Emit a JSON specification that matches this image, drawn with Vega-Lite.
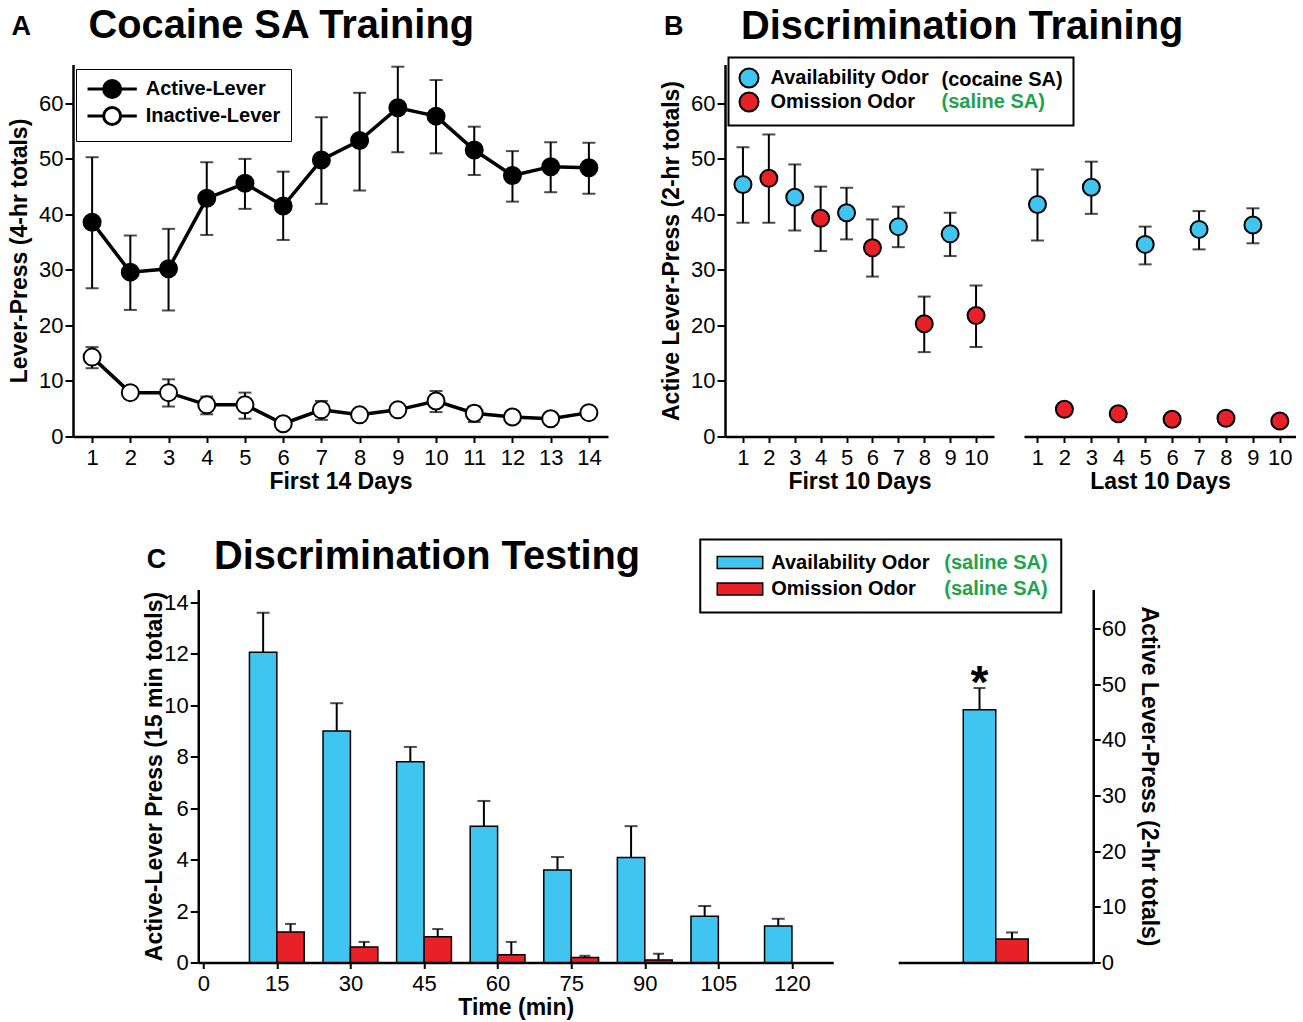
{
  "$schema": "https://vega.github.io/schema/vega-lite/v6.json",
  "padding": {"left": 8, "top": 5.5, "right": 0, "bottom": 0},
  "datasets": {
    "a": [
      {"day": 1, "lever": "Active-Lever", "mean": 38.6, "lo": 26.7, "hi": 50.3},
      {"day": 2, "lever": "Active-Lever", "mean": 29.6, "lo": 22.8, "hi": 36.2},
      {"day": 3, "lever": "Active-Lever", "mean": 30.2, "lo": 22.7, "hi": 37.4},
      {"day": 4, "lever": "Active-Lever", "mean": 42.9, "lo": 36.3, "hi": 49.4},
      {"day": 5, "lever": "Active-Lever", "mean": 45.6, "lo": 41.0, "hi": 50.0},
      {"day": 6, "lever": "Active-Lever", "mean": 41.5, "lo": 35.4, "hi": 47.7},
      {"day": 7, "lever": "Active-Lever", "mean": 49.8, "lo": 41.9, "hi": 57.5},
      {"day": 8, "lever": "Active-Lever", "mean": 53.3, "lo": 44.3, "hi": 61.9},
      {"day": 9, "lever": "Active-Lever", "mean": 59.2, "lo": 51.2, "hi": 66.6},
      {"day": 10, "lever": "Active-Lever", "mean": 57.7, "lo": 51.0, "hi": 64.2},
      {"day": 11, "lever": "Active-Lever", "mean": 51.6, "lo": 47.1, "hi": 55.8},
      {"day": 12, "lever": "Active-Lever", "mean": 47.0, "lo": 42.3, "hi": 51.4},
      {"day": 13, "lever": "Active-Lever", "mean": 48.6, "lo": 44.0, "hi": 53.0},
      {"day": 14, "lever": "Active-Lever", "mean": 48.4, "lo": 43.7, "hi": 52.9},
      {"day": 1, "lever": "Inactive-Lever", "mean": 14.3, "lo": 12.3, "hi": 16.1},
      {"day": 2, "lever": "Inactive-Lever", "mean": 7.9, "lo": null, "hi": null},
      {"day": 3, "lever": "Inactive-Lever", "mean": 7.9, "lo": 5.4, "hi": 10.3},
      {"day": 4, "lever": "Inactive-Lever", "mean": 5.7, "lo": 4.0, "hi": 7.2},
      {"day": 5, "lever": "Inactive-Lever", "mean": 5.7, "lo": 3.2, "hi": 7.9},
      {"day": 6, "lever": "Inactive-Lever", "mean": 2.3, "lo": null, "hi": null},
      {"day": 7, "lever": "Inactive-Lever", "mean": 4.8, "lo": 3.0, "hi": 6.4},
      {"day": 8, "lever": "Inactive-Lever", "mean": 3.9, "lo": null, "hi": null},
      {"day": 9, "lever": "Inactive-Lever", "mean": 4.8, "lo": null, "hi": null},
      {"day": 10, "lever": "Inactive-Lever", "mean": 6.4, "lo": 4.4, "hi": 8.2},
      {"day": 11, "lever": "Inactive-Lever", "mean": 4.2, "lo": 2.6, "hi": 5.4},
      {"day": 12, "lever": "Inactive-Lever", "mean": 3.5, "lo": null, "hi": null},
      {"day": 13, "lever": "Inactive-Lever", "mean": 3.2, "lo": null, "hi": null},
      {"day": 14, "lever": "Inactive-Lever", "mean": 4.3, "lo": 3.4, "hi": 5.2}
    ],
    "b": [
      {"phase": "First", "day": 1, "odor": "Availability Odor", "mean": 45.4, "lo": 38.5, "hi": 52.1},
      {"phase": "First", "day": 2, "odor": "Omission Odor", "mean": 46.5, "lo": 38.5, "hi": 54.4},
      {"phase": "First", "day": 3, "odor": "Availability Odor", "mean": 43.1, "lo": 37.1, "hi": 49.0},
      {"phase": "First", "day": 4, "odor": "Omission Odor", "mean": 39.3, "lo": 33.4, "hi": 45.0},
      {"phase": "First", "day": 5, "odor": "Availability Odor", "mean": 40.3, "lo": 35.5, "hi": 44.8},
      {"phase": "First", "day": 6, "odor": "Omission Odor", "mean": 34.0, "lo": 28.8, "hi": 39.1},
      {"phase": "First", "day": 7, "odor": "Availability Odor", "mean": 37.8, "lo": 34.1, "hi": 41.4},
      {"phase": "First", "day": 8, "odor": "Omission Odor", "mean": 20.3, "lo": 15.2, "hi": 25.2},
      {"phase": "First", "day": 9, "odor": "Availability Odor", "mean": 36.5, "lo": 32.5, "hi": 40.3},
      {"phase": "First", "day": 10, "odor": "Omission Odor", "mean": 21.8, "lo": 16.1, "hi": 27.2},
      {"phase": "Last", "day": 1, "odor": "Availability Odor", "mean": 41.8, "lo": 35.3, "hi": 48.1},
      {"phase": "Last", "day": 2, "odor": "Omission Odor", "mean": 4.9, "lo": null, "hi": null},
      {"phase": "Last", "day": 3, "odor": "Availability Odor", "mean": 44.9, "lo": 40.1, "hi": 49.5},
      {"phase": "Last", "day": 4, "odor": "Omission Odor", "mean": 4.1, "lo": null, "hi": null},
      {"phase": "Last", "day": 5, "odor": "Availability Odor", "mean": 34.6, "lo": 31.0, "hi": 37.8},
      {"phase": "Last", "day": 6, "odor": "Omission Odor", "mean": 3.1, "lo": null, "hi": null},
      {"phase": "Last", "day": 7, "odor": "Availability Odor", "mean": 37.3, "lo": 33.7, "hi": 40.6},
      {"phase": "Last", "day": 8, "odor": "Omission Odor", "mean": 3.3, "lo": null, "hi": null},
      {"phase": "Last", "day": 9, "odor": "Availability Odor", "mean": 38.1, "lo": 34.8, "hi": 41.1},
      {"phase": "Last", "day": 10, "odor": "Omission Odor", "mean": 2.8, "lo": null, "hi": null}
    ],
    "c": [
      {"time": 15, "odor": "Availability Odor", "mean": 12.06, "hi": 13.6},
      {"time": 30, "odor": "Availability Odor", "mean": 9.0, "hi": 10.08},
      {"time": 45, "odor": "Availability Odor", "mean": 7.8, "hi": 8.38},
      {"time": 60, "odor": "Availability Odor", "mean": 5.3, "hi": 6.28},
      {"time": 75, "odor": "Availability Odor", "mean": 3.6, "hi": 4.1},
      {"time": 90, "odor": "Availability Odor", "mean": 4.08, "hi": 5.3},
      {"time": 105, "odor": "Availability Odor", "mean": 1.8, "hi": 2.2},
      {"time": 120, "odor": "Availability Odor", "mean": 1.42, "hi": 1.7},
      {"time": 15, "odor": "Omission Odor", "mean": 1.19, "hi": 1.5},
      {"time": 30, "odor": "Omission Odor", "mean": 0.6, "hi": 0.8},
      {"time": 45, "odor": "Omission Odor", "mean": 1.0, "hi": 1.3},
      {"time": 60, "odor": "Omission Odor", "mean": 0.3, "hi": 0.8},
      {"time": 75, "odor": "Omission Odor", "mean": 0.19, "hi": 0.26},
      {"time": 90, "odor": "Omission Odor", "mean": 0.1, "hi": 0.34},
      {"time": 105, "odor": "Omission Odor", "mean": 0, "hi": null},
      {"time": 120, "odor": "Omission Odor", "mean": 0, "hi": null}
    ],
    "c2": [
      {"odor": "Availability Odor", "mean": 45.4, "hi": 49.3, "sig": "*"},
      {"odor": "Omission Odor", "mean": 4.2, "hi": 5.4, "sig": null}
    ]
  },
  "vconcat": [
    {
      "hconcat": [
        {
          "title": {"text": "A", "fontSize": 27, "frame": "bounds", "dx": 3, "dy": 34.5, "offset": 0},
          "resolve": {"scale": {"color": "independent"}},
          "hconcat": [
            {
              "width": 535,
              "height": 372,
              "title": {"text": "Cocaine SA Training", "frame": "group", "dx": 15.5, "offset": 17.25},
              "data": {"name": "a"},
              "encoding": {
                "x": {"field": "day", "type": "quantitative", "scale": {"domain": [0.5, 14.5], "nice": false, "zero": false},
                      "axis": {"values": [1, 2, 3, 4, 5, 6, 7, 8, 9, 10, 11, 12, 13, 14], "title": "First 14 Days"}}
              },
              "layer": [
                {
                  "transform": [{"filter": "isValid(datum.lo)"}],
                  "mark": {"type": "rule", "color": "black", "strokeWidth": 2},
                  "encoding": {
                    "y": {"field": "lo", "type": "quantitative", "scale": {"domain": [0, 67], "nice": false},
                          "axis": {"values": [0, 10, 20, 30, 40, 50, 60], "title": "Lever-Press (4-hr totals)"}},
                    "y2": {"field": "hi"}
                  }
                },
                {
                  "transform": [{"filter": "isValid(datum.lo)"}],
                  "mark": {"type": "tick", "orient": "horizontal", "color": "black", "size": 13, "thickness": 2},
                  "encoding": {"y": {"field": "lo", "type": "quantitative", "scale": {"domain": [0, 67], "nice": false},
                                     "axis": {"values": [0, 10, 20, 30, 40, 50, 60], "title": "Lever-Press (4-hr totals)"}}}
                },
                {
                  "transform": [{"filter": "isValid(datum.hi)"}],
                  "mark": {"type": "tick", "orient": "horizontal", "color": "black", "size": 13, "thickness": 2},
                  "encoding": {"y": {"field": "hi", "type": "quantitative", "scale": {"domain": [0, 67], "nice": false},
                                     "axis": {"values": [0, 10, 20, 30, 40, 50, 60], "title": "Lever-Press (4-hr totals)"}}}
                },
                {
                  "mark": {"type": "line", "color": "black", "strokeWidth": 3.5},
                  "encoding": {
                    "y": {"field": "mean", "type": "quantitative", "scale": {"domain": [0, 67], "nice": false},
                          "axis": {"values": [0, 10, 20, 30, 40, 50, 60], "title": "Lever-Press (4-hr totals)"}},
                    "detail": {"field": "lever"}
                  }
                },
                {
                  "mark": {"type": "point", "filled": true, "stroke": "black", "strokeWidth": 2, "size": 289, "opacity": 1},
                  "encoding": {
                    "y": {"field": "mean", "type": "quantitative", "scale": {"domain": [0, 67], "nice": false},
                          "axis": {"values": [0, 10, 20, 30, 40, 50, 60], "title": "Lever-Press (4-hr totals)"}},
                    "color": {
                      "field": "lever", "type": "nominal",
                      "scale": {"domain": ["Active-Lever", "Inactive-Lever"], "range": ["black", "white"]},
                      "legend": {
                        "orient": "none", "legendX": 3, "legendY": 4.5, "title": null,
                        "symbolType": "M-1,0H0.9M2.9,0H4.8M2.9,0A1,1,0,1,1,0.9,0A1,1,0,1,1,2.9,0Z",
                        "symbolSize": 289, "symbolStrokeColor": "black", "symbolStrokeWidth": 3,
                        "labelOffset": 39.7, "rowPadding": -3, "padding": 10,
                        "encode": {"legend": {"update": {"strokeWidth": {"value": 2}}},
                                   "symbols": {"update": {"stroke": {"value": "black"}}}}
                      }
                    }
                  }
                }
              ]
            }
          ]
        },
        {
          "title": {"text": "Discrimination Training", "fontSize": 39.8, "frame": "bounds", "dx": 80.5, "dy": 34.5, "offset": 0},
          "spacing": 30,
          "hconcat": [
            {
              "width": 269,
              "height": 372,
              "title": {"text": "B", "fontSize": 27, "frame": "group", "dx": -61, "offset": 23.25},
              "data": {"name": "b"},
              "transform": [{"filter": "datum.phase === 'First'"}],
              "encoding": {
                "x": {"field": "day", "type": "quantitative", "scale": {"domain": [0.5, 10.5], "nice": false, "zero": false},
                      "axis": {"values": [1, 2, 3, 4, 5, 6, 7, 8, 9, 10], "title": "First 10 Days"}}
              },
              "layer": [
                {
                  "mark": {"type": "bar", "opacity": 0, "width": 2},
                  "encoding": {
                    "y": {"field": "mean", "type": "quantitative", "scale": {"domain": [0, 67], "nice": false},
                          "axis": {"values": [0, 10, 20, 30, 40, 50, 60], "title": "Active Lever-Press (2-hr totals)"}},
                    "fill": {
                      "field": "odor", "type": "nominal",
                      "scale": {"domain": ["Availability Odor", "Omission Odor", "(cocaine SA)", "(saline SA)"],
                                "range": ["#40c4f0", "#e82027", "#ffffff", "#ffffff"]},
                      "legend": {
                        "orient": "none", "legendX": 3.5, "legendY": -7, "title": null,
                        "columns": 2, "columnPadding": 0, "rowPadding": -3,
                        "symbolType": "circle", "symbolSize": 361, "symbolStrokeColor": "black", "symbolStrokeWidth": 2,
                        "labelOffset": 11, "padding": 10,
                        "encode": {
                          "legend": {"update": {"strokeWidth": {"value": 2}}},
                          "symbols": {"update": {"opacity": {"signal": "indexof(datum.value, '(') === 0 ? 0 : 1"}, "stroke": {"value": "black"}}},
                          "labels": {"update": {"fill": {"signal": "datum.value === '(saline SA)' ? '#1fa34e' : 'black'"},
                                                "dx": {"signal": "indexof(datum.value, '(') === 0 ? -20 : 0"}}}
                        }
                      }
                    }
                  }
                },
                {
                  "transform": [{"filter": "isValid(datum.lo)"}],
                  "mark": {"type": "rule", "color": "black", "strokeWidth": 2},
                  "encoding": {
                    "y": {"field": "lo", "type": "quantitative", "scale": {"domain": [0, 67], "nice": false},
                          "axis": {"values": [0, 10, 20, 30, 40, 50, 60], "title": "Active Lever-Press (2-hr totals)"}},
                    "y2": {"field": "hi"}
                  }
                },
                {
                  "transform": [{"filter": "isValid(datum.lo)"}],
                  "mark": {"type": "tick", "orient": "horizontal", "color": "black", "size": 13, "thickness": 2},
                  "encoding": {"y": {"field": "lo", "type": "quantitative", "scale": {"domain": [0, 67], "nice": false},
                                     "axis": {"values": [0, 10, 20, 30, 40, 50, 60], "title": "Active Lever-Press (2-hr totals)"}}}
                },
                {
                  "transform": [{"filter": "isValid(datum.hi)"}],
                  "mark": {"type": "tick", "orient": "horizontal", "color": "black", "size": 13, "thickness": 2},
                  "encoding": {"y": {"field": "hi", "type": "quantitative", "scale": {"domain": [0, 67], "nice": false},
                                     "axis": {"values": [0, 10, 20, 30, 40, 50, 60], "title": "Active Lever-Press (2-hr totals)"}}}
                },
                {
                  "mark": {"type": "point", "filled": true, "stroke": "black", "strokeWidth": 2, "size": 289, "opacity": 1},
                  "encoding": {
                    "y": {"field": "mean", "type": "quantitative", "scale": {"domain": [0, 67], "nice": false},
                          "axis": {"values": [0, 10, 20, 30, 40, 50, 60], "title": "Active Lever-Press (2-hr totals)"}},
                    "fill": {
                      "field": "odor", "type": "nominal",
                      "scale": {"domain": ["Availability Odor", "Omission Odor", "(cocaine SA)", "(saline SA)"],
                                "range": ["#40c4f0", "#e82027", "#ffffff", "#ffffff"]},
                      "legend": null
                    }
                  }
                }
              ]
            },
            {
              "width": 272,
              "height": 372,
              "data": {"name": "b"},
              "transform": [{"filter": "datum.phase === 'Last'"}],
              "encoding": {
                "x": {"field": "day", "type": "quantitative", "scale": {"domain": [0.5, 10.6], "nice": false, "zero": false},
                      "axis": {"values": [1, 2, 3, 4, 5, 6, 7, 8, 9, 10], "title": "Last 10 Days"}}
              },
              "layer": [
                {
                  "transform": [{"filter": "isValid(datum.lo)"}],
                  "mark": {"type": "rule", "color": "black", "strokeWidth": 2},
                  "encoding": {
                    "y": {"field": "lo", "type": "quantitative", "scale": {"domain": [0, 67], "nice": false}, "axis": null},
                    "y2": {"field": "hi"}
                  }
                },
                {
                  "transform": [{"filter": "isValid(datum.lo)"}],
                  "mark": {"type": "tick", "orient": "horizontal", "color": "black", "size": 13, "thickness": 2},
                  "encoding": {"y": {"field": "lo", "type": "quantitative", "scale": {"domain": [0, 67], "nice": false}, "axis": null}}
                },
                {
                  "transform": [{"filter": "isValid(datum.hi)"}],
                  "mark": {"type": "tick", "orient": "horizontal", "color": "black", "size": 13, "thickness": 2},
                  "encoding": {"y": {"field": "hi", "type": "quantitative", "scale": {"domain": [0, 67], "nice": false}, "axis": null}}
                },
                {
                  "mark": {"type": "point", "filled": true, "stroke": "black", "strokeWidth": 2, "size": 289, "opacity": 1},
                  "encoding": {
                    "y": {"field": "mean", "type": "quantitative", "scale": {"domain": [0, 67], "nice": false}, "axis": null},
                    "fill": {
                      "field": "odor", "type": "nominal",
                      "scale": {"domain": ["Availability Odor", "Omission Odor", "(cocaine SA)", "(saline SA)"],
                                "range": ["#40c4f0", "#e82027", "#ffffff", "#ffffff"]},
                      "legend": null
                    }
                  }
                }
              ]
            }
          ]
        }
      ],
      "spacing": 52,
      "resolve": {"scale": {"color": "independent", "fill": "independent"}}
    },
    {
      "title": {"text": "C", "fontSize": 27, "frame": "bounds", "dx": 3.5, "dy": 36.5, "offset": 0},
      "spacing": 65,
      "hconcat": [
        {
          "width": 635,
          "height": 373,
          "title": {"text": "Discrimination Testing", "frame": "group", "dx": 15.8, "offset": 11.45},
          "data": {"name": "c"},
          "encoding": {
            "x": {"field": "time", "type": "quantitative", "scale": {"domain": [0, 127.4], "nice": false, "zero": false},
                  "axis": {"values": [0, 15, 30, 45, 60, 75, 90, 105, 120], "title": "Time (min)"}}
          },
          "layer": [
            {
              "transform": [{"filter": "datum.odor === 'Availability Odor'"}],
              "mark": {"type": "bar", "width": 27.4, "xOffset": -13.7, "stroke": "black", "strokeWidth": 1.5},
              "encoding": {
                "y": {"field": "mean", "type": "quantitative", "scale": {"domain": [0, 14.5], "nice": false},
                      "axis": {"values": [0, 2, 4, 6, 8, 10, 12, 14], "title": "Active-Lever Press (15 min totals)", "titlePadding": -2.5}},
                "fill": {
                  "field": "odor", "type": "nominal",
                  "scale": {"domain": ["Availability Odor", "Omission Odor", "sa1", "sa2"],
                            "range": ["#40c4f0", "#e82027", "#ffffff", "#ffffff"]},
                  "legend": {
                    "orient": "none", "legendX": 502, "legendY": -50, "title": null,
                    "columns": 2, "columnPadding": 0, "rowPadding": 6.4,
                    "symbolType": "M-1,-1H6.58V1H-1Z", "symbolSize": 144, "symbolStrokeColor": "black", "symbolStrokeWidth": 1.5,
                    "labelOffset": 38, "padding": 13,
                    "labelExpr": "datum.value === 'sa1' || datum.value === 'sa2' ? '(saline SA)' : datum.value",
                    "encode": {
                      "legend": {"update": {"strokeWidth": {"value": 2}}},
                      "symbols": {"update": {"opacity": {"signal": "indexof(datum.value, 'sa') === 0 ? 0 : 1"}, "stroke": {"value": "black"}}},
                      "labels": {"update": {"fill": {"signal": "indexof(datum.value, 'sa') === 0 ? '#1fa34e' : 'black'"},
                                            "dx": {"signal": "indexof(datum.value, 'sa') === 0 ? -44 : 0"}}}
                    }
                  }
                }
              }
            },
            {
              "transform": [{"filter": "datum.odor === 'Omission Odor' && datum.mean > 0"}],
              "mark": {"type": "bar", "width": 27.4, "xOffset": 13.7, "stroke": "black", "strokeWidth": 1.5},
              "encoding": {
                "y": {"field": "mean", "type": "quantitative", "scale": {"domain": [0, 14.5], "nice": false},
                      "axis": {"values": [0, 2, 4, 6, 8, 10, 12, 14], "title": "Active-Lever Press (15 min totals)", "titlePadding": -2.5}},
                "fill": {
                  "field": "odor", "type": "nominal",
                  "scale": {"domain": ["Availability Odor", "Omission Odor", "sa1", "sa2"],
                            "range": ["#40c4f0", "#e82027", "#ffffff", "#ffffff"]},
                  "legend": {
                    "orient": "none", "legendX": 502, "legendY": -50, "title": null,
                    "columns": 2, "columnPadding": 0, "rowPadding": 6.4,
                    "symbolType": "M-1,-1H6.58V1H-1Z", "symbolSize": 144, "symbolStrokeColor": "black", "symbolStrokeWidth": 1.5,
                    "labelOffset": 38, "padding": 13,
                    "labelExpr": "datum.value === 'sa1' || datum.value === 'sa2' ? '(saline SA)' : datum.value",
                    "encode": {
                      "legend": {"update": {"strokeWidth": {"value": 2}}},
                      "symbols": {"update": {"opacity": {"signal": "indexof(datum.value, 'sa') === 0 ? 0 : 1"}, "stroke": {"value": "black"}}},
                      "labels": {"update": {"fill": {"signal": "indexof(datum.value, 'sa') === 0 ? '#1fa34e' : 'black'"},
                                            "dx": {"signal": "indexof(datum.value, 'sa') === 0 ? -44 : 0"}}}
                    }
                  }
                }
              }
            },
            {
              "transform": [{"filter": "datum.odor === 'Availability Odor'"}],
              "mark": {"type": "rule", "xOffset": -13.7, "color": "black", "strokeWidth": 2},
              "encoding": {
                "y": {"field": "mean", "type": "quantitative", "scale": {"domain": [0, 14.5], "nice": false},
                      "axis": {"values": [0, 2, 4, 6, 8, 10, 12, 14], "title": "Active-Lever Press (15 min totals)", "titlePadding": -2.5}},
                "y2": {"field": "hi"}
              }
            },
            {
              "transform": [{"filter": "datum.odor === 'Availability Odor'"}],
              "mark": {"type": "tick", "orient": "horizontal", "xOffset": -13.7, "color": "black", "size": 13, "thickness": 2},
              "encoding": {"y": {"field": "hi", "type": "quantitative", "scale": {"domain": [0, 14.5], "nice": false},
                                 "axis": {"values": [0, 2, 4, 6, 8, 10, 12, 14], "title": "Active-Lever Press (15 min totals)", "titlePadding": -2.5}}}
            },
            {
              "transform": [{"filter": "datum.odor === 'Omission Odor' && isValid(datum.hi)"}],
              "mark": {"type": "rule", "xOffset": 13.7, "color": "black", "strokeWidth": 2},
              "encoding": {
                "y": {"field": "mean", "type": "quantitative", "scale": {"domain": [0, 14.5], "nice": false},
                      "axis": {"values": [0, 2, 4, 6, 8, 10, 12, 14], "title": "Active-Lever Press (15 min totals)", "titlePadding": -2.5}},
                "y2": {"field": "hi"}
              }
            },
            {
              "transform": [{"filter": "datum.odor === 'Omission Odor' && isValid(datum.hi)"}],
              "mark": {"type": "tick", "orient": "horizontal", "xOffset": 13.7, "color": "black", "size": 11, "thickness": 2},
              "encoding": {"y": {"field": "hi", "type": "quantitative", "scale": {"domain": [0, 14.5], "nice": false},
                                 "axis": {"values": [0, 2, 4, 6, 8, 10, 12, 14], "title": "Active-Lever Press (15 min totals)", "titlePadding": -2.5}}}
            }
          ]
        },
        {
          "width": 195,
          "height": 373,
          "data": {"name": "c2"},
          "encoding": {
            "x": {"field": "odor", "type": "nominal",
                  "scale": {"domain": ["_l", "Availability Odor", "Omission Odor", "_r"], "paddingInner": 0, "paddingOuter": 1},
                  "axis": {"labels": false, "ticks": false, "title": " ", "titleX": 272.5, "titleY": 0, "titleAlign": "right"}}
          },
          "layer": [
            {
              "mark": {"type": "bar", "stroke": "black", "strokeWidth": 1.5},
              "encoding": {
                "y": {"field": "mean", "type": "quantitative", "scale": {"domain": [0, 67], "nice": false},
                      "axis": {"orient": "right", "values": [0, 10, 20, 30, 40, 50, 60], "title": "Active Lever-Press (2-hr totals)",
                               "tickSize": 7, "labelPadding": 1, "titlePadding": 10.5}},
                "fill": {
                  "field": "odor", "type": "nominal",
                  "scale": {"domain": ["Availability Odor", "Omission Odor", "sa1", "sa2"],
                            "range": ["#40c4f0", "#e82027", "#ffffff", "#ffffff"]},
                  "legend": {
                    "orient": "none", "legendX": 502, "legendY": -50, "title": null,
                    "columns": 2, "columnPadding": 0, "rowPadding": 6.4,
                    "symbolType": "M-1,-1H6.58V1H-1Z", "symbolSize": 144, "symbolStrokeColor": "black", "symbolStrokeWidth": 1.5,
                    "labelOffset": 38, "padding": 13,
                    "labelExpr": "datum.value === 'sa1' || datum.value === 'sa2' ? '(saline SA)' : datum.value",
                    "encode": {
                      "legend": {"update": {"strokeWidth": {"value": 2}}},
                      "symbols": {"update": {"opacity": {"signal": "indexof(datum.value, 'sa') === 0 ? 0 : 1"}, "stroke": {"value": "black"}}},
                      "labels": {"update": {"fill": {"signal": "indexof(datum.value, 'sa') === 0 ? '#1fa34e' : 'black'"},
                                            "dx": {"signal": "indexof(datum.value, 'sa') === 0 ? -44 : 0"}}}
                    }
                  }
                }
              }
            },
            {
              "mark": {"type": "rule", "color": "black", "strokeWidth": 2},
              "encoding": {
                "y": {"field": "mean", "type": "quantitative", "scale": {"domain": [0, 67], "nice": false},
                      "axis": {"orient": "right", "values": [0, 10, 20, 30, 40, 50, 60], "title": "Active Lever-Press (2-hr totals)",
                               "tickSize": 7, "labelPadding": 1, "titlePadding": 10.5}},
                "y2": {"field": "hi"}
              }
            },
            {
              "mark": {"type": "tick", "orient": "horizontal", "color": "black", "size": 12, "thickness": 2},
              "encoding": {"y": {"field": "hi", "type": "quantitative", "scale": {"domain": [0, 67], "nice": false},
                                 "axis": {"orient": "right", "values": [0, 10, 20, 30, 40, 50, 60], "title": "Active Lever-Press (2-hr totals)",
                                          "tickSize": 7, "labelPadding": 1, "titlePadding": 10.5}}}
            },
            {
              "transform": [{"filter": "isValid(datum.sig)"}],
              "mark": {"type": "text", "font": "Liberation Sans", "fontSize": 46, "fontWeight": "bold", "baseline": "alphabetic", "dy": 10, "color": "black"},
              "encoding": {
                "y": {"field": "hi", "type": "quantitative", "scale": {"domain": [0, 67], "nice": false},
                      "axis": {"orient": "right", "values": [0, 10, 20, 30, 40, 50, 60], "title": "Active Lever-Press (2-hr totals)",
                               "tickSize": 7, "labelPadding": 1, "titlePadding": 10.5}},
                "text": {"field": "sig"}
              }
            }
          ]
        }
      ]
    }
  ],
  "spacing": 43,
  "center": true,
  "resolve": {"scale": {"color": "independent", "fill": "independent"}},
  "config": {
    "font": "Liberation Sans",
    "view": {"stroke": null},
    "axis": {
      "domainColor": "black", "domainWidth": 2.5, "tickColor": "black", "tickWidth": 2, "tickSize": 8,
      "labelFont": "Liberation Sans", "labelFontSize": 22, "labelColor": "black", "labelPadding": 2,
      "titleFont": "Liberation Sans", "titleFontSize": 23, "titleFontWeight": "bold", "titleColor": "black",
      "titlePadding": 7, "grid": false, "labelFlush": false, "labelOverlap": false
    },
    "axisX": {"tickSize": 6, "labelPadding": 5, "titlePadding": 2},
    "title": {"font": "Liberation Sans", "fontWeight": "bold", "color": "black", "fontSize": 39.8, "anchor": "start", "baseline": "alphabetic"},
    "legend": {"labelFont": "Liberation Sans", "labelFontSize": 20, "labelFontWeight": "bold", "labelColor": "black",
               "strokeColor": "black", "fillColor": "white", "labelLimit": 500}
  }
}
